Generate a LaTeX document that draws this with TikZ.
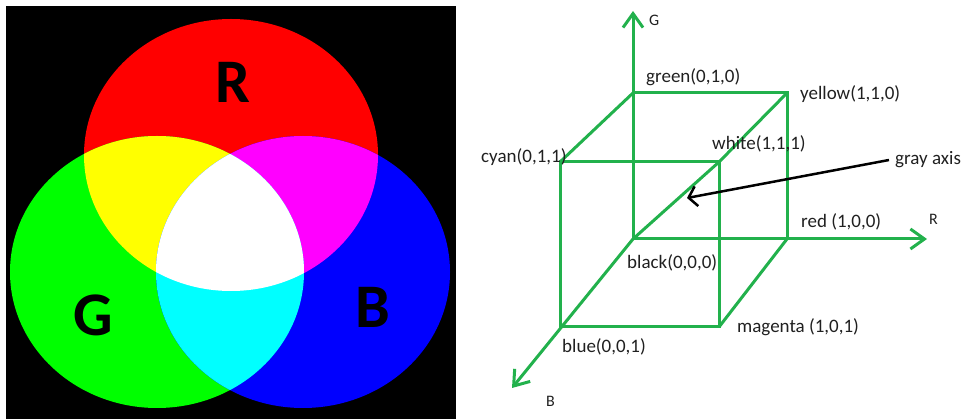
\documentclass[tikz,border=0pt]{standalone}
\usepackage{fontspec}
\usepackage{tikz}
\usetikzlibrary{arrows.meta}
\setmainfont{Carlito}
\definecolor{spotred}{RGB}{255,0,0}
\definecolor{spotgreen}{RGB}{0,255,0}
\definecolor{spotblue}{RGB}{0,0,255}
\definecolor{spotyellow}{RGB}{255,255,0}
\definecolor{spotmagenta}{RGB}{255,0,255}
\definecolor{spotcyan}{RGB}{0,255,255}
\definecolor{spotwhite}{RGB}{255,255,255}
\definecolor{cubegreen}{HTML}{22B14C}
\definecolor{labeltext}{HTML}{202020}

\tikzset{
    spot/.style={x radius=147pt, y radius=136pt},
    spotletter/.style={anchor=base, inner sep=0pt, font=\fontsize{62}{70}\selectfont\bfseries},
    edge/.style={draw=cubegreen, line width=3pt},
    axis/.style={draw=cubegreen, line width=3pt, -{Straight Barb[length=14pt, width=20pt]}},
    corner/.style={anchor=west, inner sep=0pt, text=labeltext, font=\fontsize{19}{22}\selectfont},
    axisname/.style={anchor=west, inner sep=0pt, text=labeltext, font=\fontsize{16}{18}\selectfont},
}

\begin{document}
\begin{tikzpicture}[x=1pt, y=-1pt]
    \useasboundingbox (0,0) rectangle (967,419);

    % Colour spots
    \fill[black] (6,6) rectangle (456,419);
    \fill[spotred] (231,155) ellipse [spot];
    \fill[spotgreen] (157,272) ellipse [spot];
    \fill[spotblue] (303,272) ellipse [spot];
    \begin{scope}
        \clip (231,155) ellipse [spot];
        \fill[spotyellow] (157,272) ellipse [spot];
        \fill[spotmagenta] (303,272) ellipse [spot];
    \end{scope}
    \begin{scope}
        \clip (157,272) ellipse [spot];
        \fill[spotcyan] (303,272) ellipse [spot];
        \clip (231,155) ellipse [spot];
        \fill[spotwhite] (303,272) ellipse [spot];
    \end{scope}
    \node (lblR) [spotletter] at (233,103) {R};
    \node (lblG) [spotletter] at (93,336) {G};
    \node (lblB) [spotletter] at (373,328) {B};

    % Cube corners
    \coordinate (o) at (633,239);
    \coordinate (r) at (787,239);
    \coordinate (g) at (633,93);
    \coordinate (rg) at (787,93);
    \coordinate (b) at (560,327);
    \coordinate (rb) at (719,327);
    \coordinate (gb) at (560,162);
    \coordinate (rgb) at (719,162);
    \coordinate (tipG) at (633,11);
    \coordinate (tipR) at (927,239);
    \coordinate (tipB) at (512,388);
    \coordinate (grayend) at (687,198);

    % Axes
    \draw[axis] (o) -- (tipG);
    \draw[axis] (o) -- (tipR);
    \draw[axis] (o) -- (tipB);

    % Edges
    \draw[edge] (g) -- (rg) -- (r);
    \draw[edge] (gb) -- (rgb) -- (rb) -- (b) -- cycle;
    \draw[edge] (g) -- (gb);
    \draw[edge] (rg) -- (rgb);
    \draw[edge] (r) -- (rb);
    \draw[edge] (o) -- (rgb);

    % Labels
    \node (nG) [axisname] at (649,20) {G};
    \node (nR) [axisname] at (929,219) {R};
    \node (nB) [axisname] at (546,401) {B};
    \node (green) [corner] at (646,77) {green(0,1,0)};
    \node (yellow) [corner] at (800,94) {yellow(1,1,0)};
    \node (white) [corner] at (712,144) {white(1,1,1)};
    \node (cyan) [corner] at (481,157) {cyan(0,1,1)};
    \node (red) [corner] at (801,222) {red (1,0,0)};
    \node (black) [corner] at (627,263) {black(0,0,0)};
    \node (magenta) [corner] at (737,327) {magenta (1,0,1)};
    \node (blue) [corner] at (562,347) {blue(0,0,1)};
    \node (gray) [corner] at (895,160) {gray axis};

    % Gray axis pointer
    \draw [line width=2.5pt, -{Straight Barb[length=8pt, width=20pt]}] (gray.west) ++(-6,0) -- (grayend);
\end{tikzpicture}
\end{document}
